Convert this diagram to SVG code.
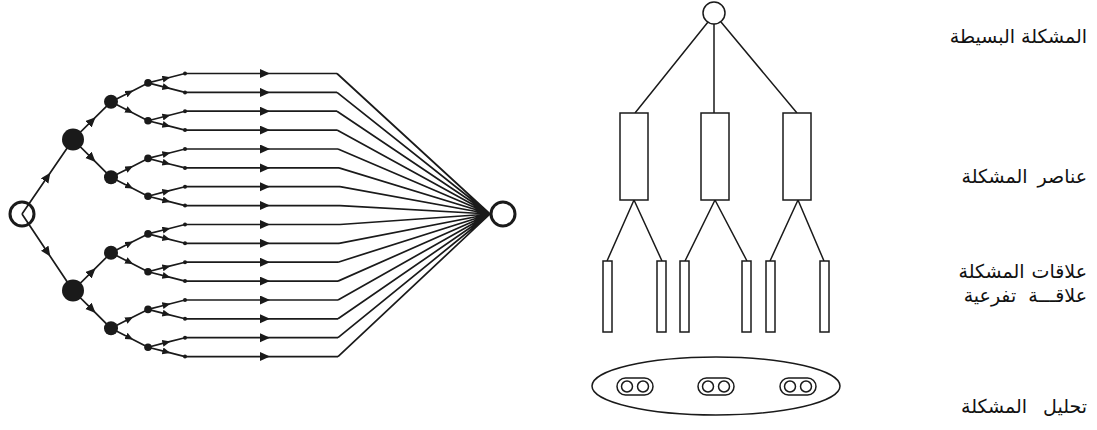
<svg xmlns="http://www.w3.org/2000/svg" width="1097" height="430" viewBox="0 0 1097 430">
<style>
.e{fill:none;stroke:#1a1a1a;stroke-width:1.7}
.a{marker-mid:url(#ab)}
.s{marker-mid:url(#as)}
.r{fill:#fff;stroke:#1a1a1a;stroke-width:1.5}
.l{fill:none;stroke:#1a1a1a;stroke-width:1.5}
.t{font-family:"DejaVu Sans",sans-serif;font-size:19px;fill:#111;text-anchor:end}
</style>
<defs>
<marker id="ab" markerUnits="userSpaceOnUse" markerWidth="12" markerHeight="12" refX="5" refY="4.5" orient="auto" viewBox="0 0 12 12"><path d="M0,0 L10,4.5 L0,9 z" fill="#1a1a1a"/></marker>
<marker id="as" markerUnits="userSpaceOnUse" markerWidth="10" markerHeight="10" refX="4" refY="3.5" orient="auto" viewBox="0 0 10 10"><path d="M0,0 L8,3.5 L0,7 z" fill="#1a1a1a"/></marker>
</defs>
<rect width="1097" height="430" fill="#fff"/>
<g id="connectors">
<path class="e a" d="M22,214 L47.5,176.8 L73,139.5"/>
<path class="e a" d="M22,214 L47.5,252.3 L73,290.5"/>
<path class="e a" d="M73,139.5 L92,120.7 L111,101.8"/>
<path class="e a" d="M73,139.5 L92,158.4 L111,177.3"/>
<path class="e a" d="M73,290.5 L92,271.7 L111,252.8"/>
<path class="e a" d="M73,290.5 L92,309.4 L111,328.3"/>
<path class="e s" d="M111,101.8 L129.5,92.4 L148,82.9"/>
<path class="e s" d="M111,101.8 L129.5,111.2 L148,120.7"/>
<path class="e s" d="M111,177.3 L129.5,167.9 L148,158.4"/>
<path class="e s" d="M111,177.3 L129.5,186.7 L148,196.2"/>
<path class="e s" d="M111,252.8 L129.5,243.3 L148,233.9"/>
<path class="e s" d="M111,252.8 L129.5,262.2 L148,271.7"/>
<path class="e s" d="M111,328.3 L129.5,318.8 L148,309.4"/>
<path class="e s" d="M111,328.3 L129.5,337.7 L148,347.2"/>
<path class="e s" d="M148,82.9 L166.5,78.2 L185,73.5"/>
<path class="e s" d="M148,82.9 L166.5,87.6 L185,92.4"/>
<path class="e s" d="M148,120.7 L166.5,116 L185,111.2"/>
<path class="e s" d="M148,120.7 L166.5,125.4 L185,130.1"/>
<path class="e s" d="M148,158.4 L166.5,153.7 L185,149"/>
<path class="e s" d="M148,158.4 L166.5,163.2 L185,167.9"/>
<path class="e s" d="M148,196.2 L166.5,191.4 L185,186.7"/>
<path class="e s" d="M148,196.2 L166.5,200.9 L185,205.6"/>
<path class="e s" d="M148,233.9 L166.5,229.2 L185,224.5"/>
<path class="e s" d="M148,233.9 L166.5,238.6 L185,243.3"/>
<path class="e s" d="M148,271.7 L166.5,266.9 L185,262.2"/>
<path class="e s" d="M148,271.7 L166.5,276.4 L185,281.1"/>
<path class="e s" d="M148,309.4 L166.5,304.7 L185,300"/>
<path class="e s" d="M148,309.4 L166.5,314.1 L185,318.8"/>
<path class="e s" d="M148,347.2 L166.5,342.4 L185,337.7"/>
<path class="e s" d="M148,347.2 L166.5,351.9 L185,356.6"/>
<path class="e a" d="M185,73.5 L265,73.5 L337,73.5"/>
<path class="e a" d="M185,92.4 L265,92.4 L337,92.4"/>
<path class="e a" d="M185,111.2 L265,111.2 L337,111.2"/>
<path class="e a" d="M185,130.1 L265,130.1 L337,130.1"/>
<path class="e a" d="M185,149 L265,149 L338,149"/>
<path class="e a" d="M185,167.9 L265,167.9 L339,167.9"/>
<path class="e a" d="M185,186.7 L265,186.7 L340,186.7"/>
<path class="e a" d="M185,205.6 L265,205.6 L340,205.6"/>
<path class="e a" d="M185,224.5 L265,224.5 L340,224.5"/>
<path class="e a" d="M185,243.3 L265,243.3 L339,243.3"/>
<path class="e a" d="M185,262.2 L265,262.2 L338,262.2"/>
<path class="e a" d="M185,281.1 L265,281.1 L338,281.1"/>
<path class="e a" d="M185,300 L265,300 L338,300"/>
<path class="e a" d="M185,318.8 L265,318.8 L338,318.8"/>
<path class="e a" d="M185,337.7 L265,337.7 L338,337.7"/>
<path class="e a" d="M185,356.6 L265,356.6 L338,356.6"/>
<path class="e" d="M337,73.5 L490,214 M337,92.4 L490,214 M337,111.2 L490,214 M337,130.1 L490,214 M338,149 L490,214 M339,167.9 L490,214 M340,186.7 L490,214 M340,205.6 L490,214 M340,224.5 L490,214 M339,243.3 L490,214 M338,262.2 L490,214 M338,281.1 L490,214 M338,300 L490,214 M338,318.8 L490,214 M338,337.7 L490,214 M338,356.6 L490,214"/>
<path class="l" d="M708,22 L635,113 M714,24 L714,113 M721,22 L797,113"/>
<path class="l" d="M634,200 L607,261 M634,200 L662,261 M715,200 L685,261 M715,200 L747,261 M798,200 L770,261 M798,200 L824,261"/>
</g>
<g id="start"><circle cx="22" cy="214" r="12" fill="none" stroke="#1a1a1a" stroke-width="3"/></g>
<g id="n1a"><circle cx="73" cy="139.5" r="11" fill="#1a1a1a"/></g>
<g id="n1b"><circle cx="73" cy="290.5" r="11" fill="#1a1a1a"/></g>
<g id="n2"><circle cx="111" cy="101.8" r="7" fill="#1a1a1a"/><circle cx="111" cy="177.3" r="7" fill="#1a1a1a"/><circle cx="111" cy="252.8" r="7" fill="#1a1a1a"/><circle cx="111" cy="328.3" r="7" fill="#1a1a1a"/></g>
<g id="n3" fill="#1a1a1a"><circle cx="148" cy="82.9" r="3.8"/><circle cx="148" cy="120.7" r="3.8"/><circle cx="148" cy="158.4" r="3.8"/><circle cx="148" cy="196.2" r="3.8"/><circle cx="148" cy="233.9" r="3.8"/><circle cx="148" cy="271.7" r="3.8"/><circle cx="148" cy="309.4" r="3.8"/><circle cx="148" cy="347.2" r="3.8"/></g>
<g id="leafdots" fill="#1a1a1a"><circle cx="185" cy="73.5" r="2"/><circle cx="185" cy="92.4" r="2"/><circle cx="185" cy="111.2" r="2"/><circle cx="185" cy="130.1" r="2"/><circle cx="185" cy="149" r="2"/><circle cx="185" cy="167.9" r="2"/><circle cx="185" cy="186.7" r="2"/><circle cx="185" cy="205.6" r="2"/><circle cx="185" cy="224.5" r="2"/><circle cx="185" cy="243.3" r="2"/><circle cx="185" cy="262.2" r="2"/><circle cx="185" cy="281.1" r="2"/><circle cx="185" cy="300" r="2"/><circle cx="185" cy="318.8" r="2"/><circle cx="185" cy="337.7" r="2"/><circle cx="185" cy="356.6" r="2"/></g>
<g id="end"><circle cx="503" cy="214" r="12" fill="#fff" stroke="#1a1a1a" stroke-width="3"/></g>
<g id="root"><circle cx="714" cy="13" r="11" class="r"/></g>
<g id="elements"><rect x="620" y="113" width="28" height="87" class="r"/><rect x="701" y="113" width="28" height="87" class="r"/><rect x="783" y="113" width="28" height="87" class="r"/></g>
<g id="relations"><rect x="603" y="261" width="9" height="71" class="r"/><rect x="657" y="261" width="9" height="71" class="r"/><rect x="680" y="261" width="9" height="71" class="r"/><rect x="742" y="261" width="9" height="71" class="r"/><rect x="766" y="261" width="9" height="71" class="r"/><rect x="820" y="261" width="9" height="71" class="r"/></g>
<g id="analysis">
<ellipse cx="716" cy="386" rx="124" ry="29" class="l"/>
<rect x="617" y="378" width="36" height="17" rx="8.5" class="l"/><circle cx="627" cy="386.5" r="5.5" class="l"/><circle cx="643" cy="386.5" r="5.5" class="l"/>
<rect x="698" y="378" width="36" height="17" rx="8.5" class="l"/><circle cx="708" cy="386.5" r="5.5" class="l"/><circle cx="724" cy="386.5" r="5.5" class="l"/>
<rect x="780" y="378" width="36" height="17" rx="8.5" class="l"/><circle cx="790" cy="386.5" r="5.5" class="l"/><circle cx="806" cy="386.5" r="5.5" class="l"/>
</g>
<g id="labels">
<text class="t" x="1087" y="43">المشكلة البسيطة</text>
<text class="t" x="1087" y="183" word-spacing="4">عناصر المشكلة</text>
<text class="t" x="1087" y="278" word-spacing="1">علاقات المشكلة</text>
<text class="t" x="1087" y="302" xml:space="preserve">علاقـــة  تفرعية</text>
<text class="t" x="1087" y="413" word-spacing="10">تحليل المشكلة</text>
</g>
</svg>
